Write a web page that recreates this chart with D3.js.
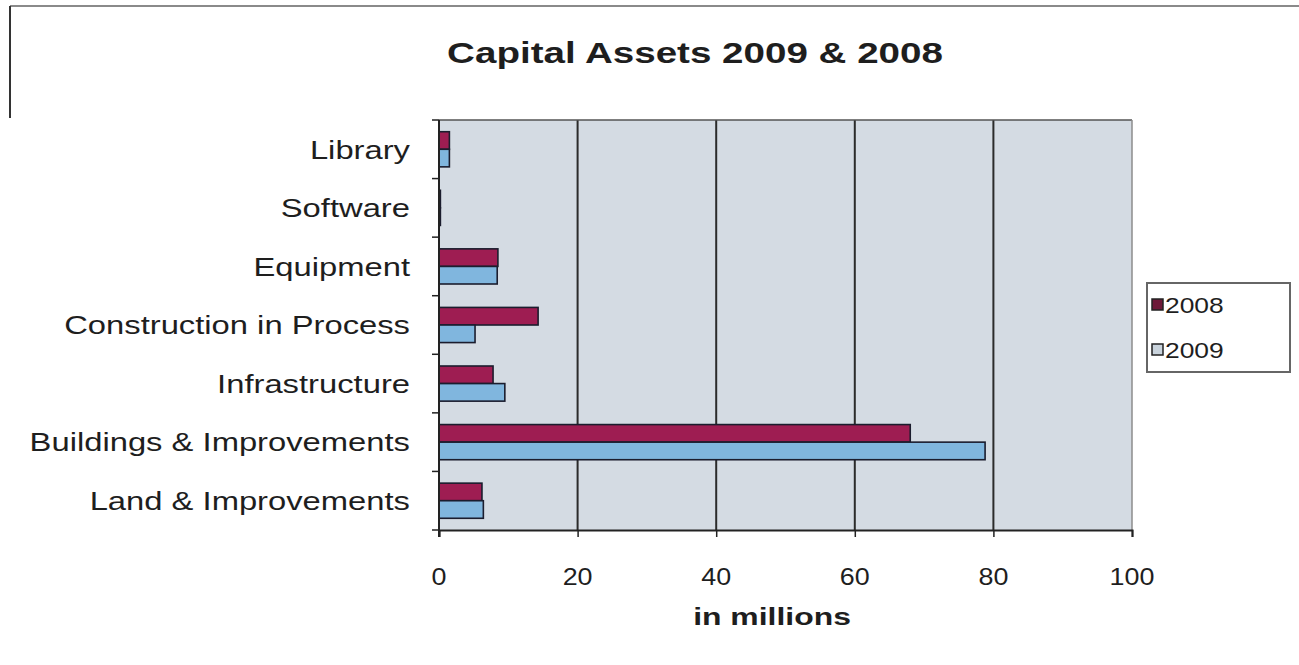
<!DOCTYPE html>
<html>
<head>
<meta charset="utf-8">
<script src="https://cdn.jsdelivr.net/npm/d3@7"></script>
<style>
  html, body { margin: 0; padding: 0; background: #fff; }
  svg { display: block; }
  text { font-family: "Liberation Sans", Arial, sans-serif; fill: #1e1e1e; }
</style>
</head>
<body>
<svg id="chart" width="1299" height="665"></svg>
<script>
// Capital assets by category, in millions of dollars
const categories = [
  "Library",
  "Software",
  "Equipment",
  "Construction in Process",
  "Infrastructure",
  "Buildings & Improvements",
  "Land & Improvements"
];
const seriesNames = ["2008", "2009"];
const values2008 = [1.5, 0.2, 8.5, 14.3, 7.8, 68.0, 6.2];
const values2009 = [1.5, 0.2, 8.4, 5.2, 9.5, 78.8, 6.4];
const xTicks = [0, 20, 40, 60, 80, 100];
const titleText = "Capital Assets 2009 & 2008";
const xTitle = "in millions";

const colors = { "2008": "#9e1d52", "2009": "#80b6de" };
const legendSwatch = { "2008": "#6e1838", "2009": "#c9d3dc" };

const svg = d3.select("#chart");
const plot = { left: 439, right: 1132, top: 120, bottom: 530 };

// horizontally widened text, as in the original rendering
function wideText(g, x, y, str, opts) {
  const o = Object.assign({ size: 27, sx: 1.2, anchor: "start", weight: "normal" }, opts);
  return g.append("text")
    .attr("transform", `translate(${x},${y}) scale(${o.sx},1)`)
    .attr("text-anchor", o.anchor)
    .attr("dominant-baseline", "central")
    .attr("font-size", o.size)
    .attr("font-weight", o.weight)
    .text(str);
}

// chart frame
svg.append("line").attr("x1", 10).attr("x2", 1299).attr("y1", 6).attr("y2", 6)
  .attr("stroke", "#8a8a8a").attr("stroke-width", 2);
svg.append("line").attr("x1", 10).attr("x2", 10).attr("y1", 6).attr("y2", 118)
  .attr("stroke", "#333").attr("stroke-width", 2);

// title
wideText(svg, 695, 53, titleText, { size: 29, sx: 1.33, anchor: "middle", weight: "bold" });

// scales
const x = d3.scaleLinear().domain([0, 100]).range([plot.left, plot.right]);
const y = d3.scaleBand().domain(categories).range([plot.top, plot.bottom])
  .paddingInner(0.4).paddingOuter(0.2);
const ySub = d3.scaleBand().domain(seriesNames).range([0, y.bandwidth()]);
const step = y.step();

// plot background
svg.append("rect")
  .attr("x", plot.left).attr("y", plot.top)
  .attr("width", plot.right - plot.left).attr("height", plot.bottom - plot.top)
  .attr("fill", "#d4dbe3");

// vertical gridlines
svg.append("g").selectAll("line").data(xTicks.slice(1, -1))
  .join("line")
  .attr("x1", d => x(d)).attr("x2", d => x(d))
  .attr("y1", plot.top).attr("y2", plot.bottom)
  .attr("stroke", "#2b2b2b").attr("stroke-width", 2);

// plot top and right border
svg.append("line").attr("x1", plot.left).attr("x2", plot.right)
  .attr("y1", plot.top).attr("y2", plot.top)
  .attr("stroke", "#555").attr("stroke-width", 1.5);
svg.append("line").attr("x1", plot.right).attr("x2", plot.right)
  .attr("y1", plot.top).attr("y2", plot.bottom)
  .attr("stroke", "#8c8c8c").attr("stroke-width", 1.5);

// bars
const rows = categories.map((c, i) => ({ cat: c, vals: { "2008": values2008[i], "2009": values2009[i] } }));
const groups = svg.append("g").selectAll("g").data(rows).join("g")
  .attr("transform", d => `translate(0,${y(d.cat)})`);
groups.selectAll("rect")
  .data(d => seriesNames.map(s => ({ s, v: d.vals[s] })))
  .join("rect")
  .attr("x", x(0))
  .attr("y", d => ySub(d.s))
  .attr("width", d => x(d.v) - x(0))
  .attr("height", ySub.bandwidth())
  .attr("fill", d => colors[d.s])
  .attr("stroke", "#1b1d2e")
  .attr("stroke-width", 1.6);

// x axis
const xAxis = svg.append("g")
  .attr("transform", `translate(0,${plot.bottom})`)
  .call(d3.axisBottom(x).tickValues(xTicks).tickSize(7).tickFormat(""));
xAxis.select(".domain").attr("stroke", "#222").attr("stroke-width", 2);
xAxis.selectAll(".tick line").attr("stroke", "#222").attr("stroke-width", 1.5);
xTicks.forEach(t => wideText(svg, x(t), 577, String(t), { size: 24, sx: 1.12, anchor: "middle" }));

// x axis title
wideText(svg, 772, 617, xTitle, { size: 24, sx: 1.33, anchor: "middle", weight: "bold" });

// y axis with category-boundary ticks
const boundaries = d3.range(categories.length + 1).map(i => plot.top + i * step);
svg.append("line").attr("x1", plot.left).attr("x2", plot.left)
  .attr("y1", plot.top).attr("y2", plot.bottom + 7)
  .attr("stroke", "#222").attr("stroke-width", 2);
svg.append("g").selectAll("line").data(boundaries).join("line")
  .attr("x1", plot.left - 7).attr("x2", plot.left)
  .attr("y1", d => d).attr("y2", d => d)
  .attr("stroke", "#222").attr("stroke-width", 1.5);

// category labels
categories.forEach(c => wideText(svg, 410, y(c) + y.bandwidth() / 2, c, { size: 26, sx: 1.26, anchor: "end" }));

// legend
const lg = svg.append("g");
lg.append("rect").attr("x", 1147).attr("y", 283).attr("width", 143).attr("height", 89)
  .attr("fill", "#fff").attr("stroke", "#666").attr("stroke-width", 2);
seriesNames.forEach((s, i) => {
  const cy = 305 + i * 45;
  lg.append("rect").attr("x", 1152).attr("y", cy - 6).attr("width", 11).attr("height", 11)
    .attr("fill", legendSwatch[s]).attr("stroke", "#222").attr("stroke-width", 1.5);
  wideText(lg, 1165, cy, s, { size: 22, sx: 1.2, anchor: "start" });
});
</script>
</body>
</html>
